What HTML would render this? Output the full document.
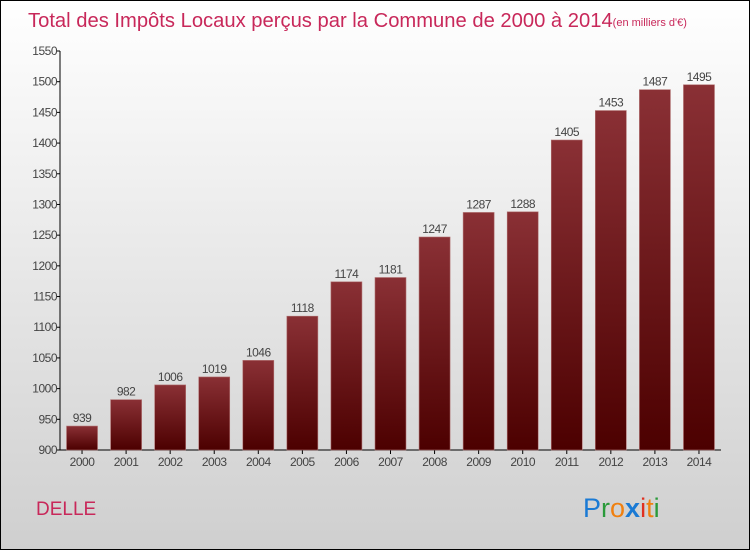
<!DOCTYPE html>
<html><head><meta charset="utf-8"><style>
html,body{margin:0;padding:0}
body{width:750px;height:550px;overflow:hidden;font-family:"Liberation Sans",sans-serif}
</style></head><body>
<svg width="750" height="550" xmlns="http://www.w3.org/2000/svg">
<defs>
<linearGradient id="bg" x1="0" y1="0" x2="0" y2="1"><stop offset="0" stop-color="#ffffff"/><stop offset="1" stop-color="#cfcfcf"/></linearGradient>
<linearGradient id="bar" x1="0" y1="0" x2="0" y2="1"><stop offset="0" stop-color="#8a3035"/><stop offset="1" stop-color="#4c0000"/></linearGradient>
</defs>
<rect x="0.5" y="0.5" width="749" height="549" fill="url(#bg)" stroke="#000"/>
<text x="28" y="27" font-size="20.2" fill="#c8285a">Total des Impôts Locaux perçus par la Commune de 2000 à 2014<tspan font-size="11" dy="-1">(en milliers d'€)</tspan></text>
<g id="axes"></g>
<g id="bars"></g>
<text x="36" y="515" font-size="19" fill="#c8285a">DELLE</text>
<g font-size="27" font-family="'Liberation Sans',sans-serif">
<text x="583" y="517"><tspan fill="#1a7ad4">P</tspan><tspan fill="#2a9a3a">r</tspan><tspan fill="#f08010">o</tspan><tspan fill="#1a7ad4" font-weight="bold">x</tspan><tspan fill="#e03020">i</tspan><tspan fill="#f08010">t</tspan><tspan fill="#2a9a3a">i</tspan></text>
</g>
</svg>
<script>
const years=["2000","2001","2002","2003","2004","2005","2006","2007","2008","2009","2010","2011","2012","2013","2014"];
const values=[939,982,1006,1019,1046,1118,1174,1181,1247,1287,1288,1405,1453,1487,1495];
const yTicks=[900,950,1000,1050,1100,1150,1200,1250,1300,1350,1400,1450,1500,1550];
const NS="http://www.w3.org/2000/svg";
const x0=60,x1=721,yb=450,yt=51,vmin=900,vmax=1550;
const y=v=>yb-(v-vmin)/(vmax-vmin)*(yb-yt);
const step=(x1-x0)/years.length;
const xc=i=>x0+step*(i+0.5);
function mk(tag,attrs,parent,txt){const e=document.createElementNS(NS,tag);for(const k in attrs)e.setAttribute(k,attrs[k]);if(txt!==undefined)e.textContent=txt;parent.appendChild(e);return e;}
const ax=document.getElementById('axes'),bg=document.getElementById('bars');
let l=mk('line',{x1:x0,y1:yt,x2:x0,y2:yb,stroke:'#000'},ax);


l=mk('line',{x1:x0,y1:yb,x2:x1,y2:yb,stroke:'#000'},ax);


yTicks.forEach(v=>{
 mk('line',{x1:x0-4,y1:y(v),x2:x0,y2:y(v),stroke:'#000'},ax);
 const t=mk('text',{x:x0-3,y:y(v)+4,'text-anchor':'end','font-size':12,fill:'#444','letter-spacing':'-0.5'},ax,v);
 
 
});
years.forEach((yr,i)=>{
 const c=xc(i);
 mk('line',{x1:c,y1:yb,x2:c,y2:yb+4,stroke:'#000'},ax);
 const t=mk('text',{x:c,y:yb+16,'text-anchor':'middle','font-size':12,fill:'#444','letter-spacing':'-0.5'},ax,yr);
 
 
 const r=mk('rect',{x:c-15.5,y:y(values[i]),width:31,height:yb-y(values[i]),fill:'url(#bar)',stroke:'#b07070','stroke-width':0.6},bg);
 
 
 const vl=mk('text',{x:c,y:y(values[i])-4,'text-anchor':'middle','font-size':12,fill:'#444','letter-spacing':'-0.5'},bg,values[i]);
 
 
});
</script>
</body></html>
